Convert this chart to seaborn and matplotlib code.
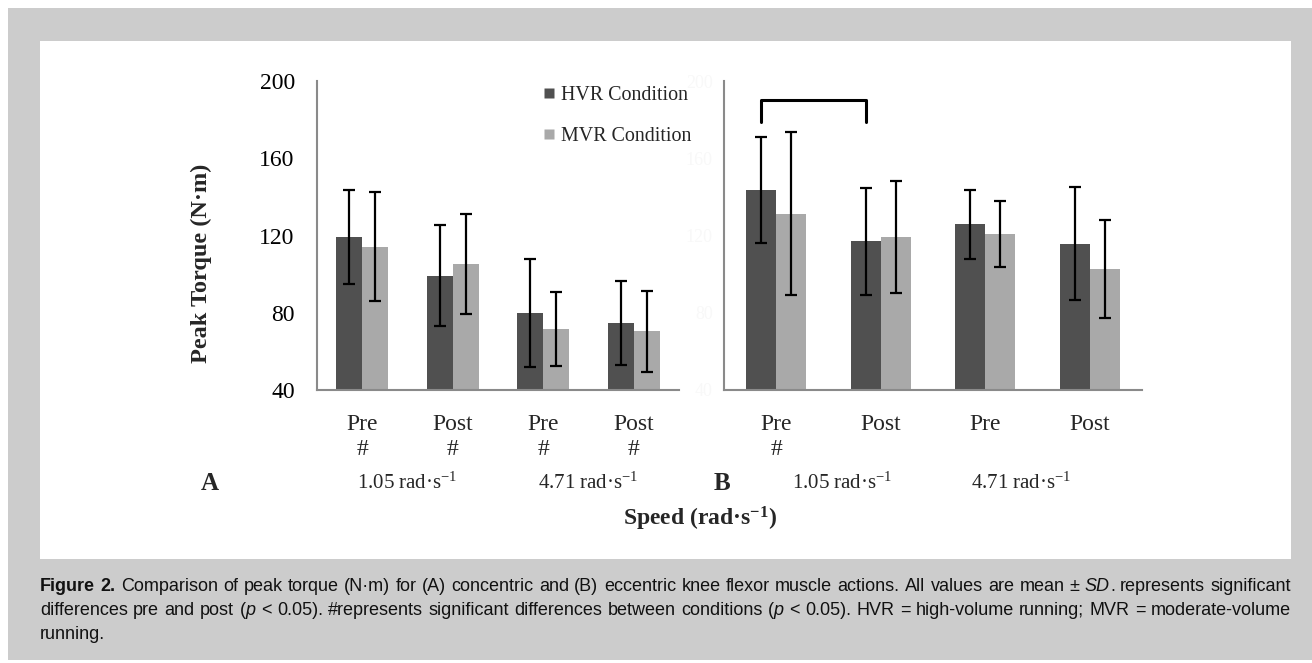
import re
import numpy as np
import pandas as pd
import matplotlib
matplotlib.use("Agg")
import matplotlib.pyplot as plt
import seaborn as sns
from matplotlib.patches import Rectangle
from matplotlib.lines import Line2D
from matplotlib.transforms import IdentityTransform

# ---------------- data ----------------
slots = ["s1", "s2", "s3", "s4"]
tick_labels_A = ["Pre\n#", "Post\n#", "Pre\n#", "Post\n#"]
tick_labels_B = ["Pre\n#", "Post", "Pre", "Post"]
conditions = ["HVR Condition", "MVR Condition"]
speed_labels = ["1.05 rad·s$^{-1}$", "4.71 rad·s$^{-1}$"]
yticks = [40, 80, 120, 160, 200]

conc_hvr_mean = [119.2, 99.2, 80.0, 74.7]
conc_hvr_sd = [24.4, 26.2, 28.0, 21.7]
conc_mvr_mean = [114.2, 105.2, 71.7, 70.3]
conc_mvr_sd = [28.2, 25.8, 19.1, 21.1]

ecc_hvr_mean = [143.5, 116.9, 125.7, 115.8]
ecc_hvr_sd = [27.5, 27.6, 17.9, 29.2]
ecc_mvr_mean = [131.3, 119.2, 120.7, 102.6]
ecc_mvr_sd = [42.1, 29.0, 17.0, 25.5]

bracket_y = [179.0, 190.2]

caption_lines = [
    "**Figure 2.** Comparison of peak torque (N·m) for (A) concentric and (B) eccentric knee flexor muscle actions. All values are mean ± *SD*. represents significant",
    "differences pre and post (*p* < 0.05). #represents significant differences between conditions (*p* < 0.05). HVR = high-volume running; MVR = moderate-volume",
    "running.",
]

# ---------------- style ----------------
sns.set_style("white")
plt.rcParams["font.family"] = ["Liberation Serif", "DejaVu Serif"]
plt.rcParams["mathtext.fontset"] = "custom"
plt.rcParams["mathtext.rm"] = "Liberation Serif"
plt.rcParams["mathtext.it"] = "Liberation Serif:italic"
plt.rcParams["mathtext.bf"] = "Liberation Serif:bold"

W, H = 1312, 663
fig = plt.figure(figsize=(W / 100, H / 100), dpi=100, facecolor="white")

def fx(px):
    return px / W

def fy(py):
    return 1 - py / H

# background panels
fig.patches.append(Rectangle((fx(8), fy(660)), fx(1312) - fx(8), fy(8) - fy(660),
                             transform=fig.transFigure, facecolor="#cccccc", edgecolor="none", zorder=-10))
fig.patches.append(Rectangle((fx(40), fy(559)), fx(1291) - fx(40), fy(41) - fy(559),
                             transform=fig.transFigure, facecolor="white", edgecolor="none", zorder=-9))

palette = {"HVR Condition": "#505050", "MVR Condition": "#a9a9a9"}
axis_col = "#8a8a8a"
TFS = 17

def make_df(hvr, mvr):
    return pd.DataFrame({
        "slot": slots * 2,
        "cond": [conditions[0]] * 4 + [conditions[1]] * 4,
        "val": list(hvr) + list(mvr),
    })

def panel(rect, hvr_m, hvr_s, mvr_m, mvr_s, labels, label_color, ypad, yfs):
    ax = fig.add_axes(rect)
    ax.patch.set_alpha(0)
    df = make_df(hvr_m, mvr_m)
    sns.barplot(data=df, x="slot", y="val", hue="cond", order=slots, hue_order=conditions,
                palette=palette, errorbar=None, width=0.57, saturation=1, linewidth=0,
                ax=ax, legend=False)
    centers = []
    for cont, m, s in zip(ax.containers, [hvr_m, mvr_m], [hvr_s, mvr_s]):
        xs = [p.get_x() + p.get_width() / 2 for p in cont]
        centers.append(xs)
        ax.errorbar(xs, m, yerr=s, fmt="none", ecolor="black", elinewidth=1.6,
                    capsize=4.6, capthick=1.6, zorder=5)
    ax.set_ylim(40, 200)
    ax.set_xlim(-0.5, 3.5)
    ax.set_yticks(yticks)
    ax.set_yticklabels([str(v) for v in yticks], fontsize=yfs, color=label_color)
    ax.set_xticks([-0.5, 0.5, 1.5, 2.5, 3.5])
    ax.set_xticklabels([])
    ax.set_xticks(range(4), minor=True)
    ax.set_xticklabels(labels, minor=True, fontsize=TFS, linespacing=1.25, va="top")
    ax.tick_params(axis="x", which="major", length=5, width=1.5, color=axis_col, direction="out")
    ax.tick_params(axis="x", which="minor", length=0, pad=17)
    ax.tick_params(axis="y", length=6, width=1.5, color=axis_col, direction="out", pad=ypad)
    for sp in ["top", "right"]:
        ax.spines[sp].set_visible(False)
    for sp in ["left", "bottom"]:
        ax.spines[sp].set_color(axis_col)
        ax.spines[sp].set_linewidth(1.5)
    ax.set_xlabel("")
    ax.set_ylabel("")
    return ax, centers

axA, cA = panel([fx(317), fy(390), fx(679) - fx(317), fy(81) - fy(390)],
                conc_hvr_mean, conc_hvr_sd, conc_mvr_mean, conc_mvr_sd, tick_labels_A,
                "black", 10, TFS)
axB, cB = panel([fx(724), fy(390), fx(1142) - fx(724), fy(81) - fy(390)],
                ecc_hvr_mean, ecc_hvr_sd, ecc_mvr_mean, ecc_mvr_sd, tick_labels_B,
                "#f8f8f8", 2, TFS - 4)

axA.set_ylabel("Peak Torque (N·m)", fontsize=TFS + 0.5, fontweight="bold")
axA.yaxis.set_label_coords(-0.29, 0.41)

# legend
handles = [Line2D([], [], marker="s", linestyle="none", markersize=7.5,
                  markerfacecolor=palette[c], markeredgecolor="none") for c in conditions]
axA.legend(handles, conditions, loc="upper left", bbox_to_anchor=(0.625, 0.985), frameon=False,
           fontsize=TFS - 2.6, handlelength=0.6, handletextpad=0.3, labelspacing=1.1,
           borderpad=0, borderaxespad=0)

# bracket (significant pre vs post)
x0, x1 = cB[0][0], cB[0][1]
axB.plot([x0, x0, x1, x1], [bracket_y[0], bracket_y[1], bracket_y[1], bracket_y[0]],
         color="black", linewidth=2.2, clip_on=False, zorder=6)

# speed labels under the groups
tr = lambda ax: matplotlib.transforms.blended_transform_factory(ax.transData, fig.transFigure)
axA.text(0.5, fy(483), speed_labels[0], transform=tr(axA), ha="center", va="center", fontsize=TFS - 2)
axA.text(2.5, fy(483), speed_labels[1], transform=tr(axA), ha="center", va="center", fontsize=TFS - 2)
axB.text(0.63, fy(483), speed_labels[0], transform=tr(axB), ha="center", va="center", fontsize=TFS - 2)
axB.text(2.34, fy(483), speed_labels[1], transform=tr(axB), ha="center", va="center", fontsize=TFS - 2)

fig.text(fx(210), fy(484), "A", fontsize=TFS + 1, fontweight="bold", ha="center", va="center")
fig.text(fx(722), fy(484), "B", fontsize=TFS + 1, fontweight="bold", ha="center", va="center")
fig.text(fx(700), fy(519), r"Speed (rad·s$^{\mathbf{-1}}$)", fontsize=TFS, fontweight="bold",
         ha="center", va="center")

# ---------------- caption ----------------
def parse(line):
    chars = []
    i = 0
    style = "n"
    while i < len(line):
        if line.startswith("**", i):
            style = "b" if style != "b" else "n"
            i += 2
            continue
        if line[i] == "*":
            style = "i" if style != "i" else "n"
            i += 1
            continue
        chars.append((line[i], style))
        i += 1
    words, cur = [], []
    for ch, st in chars:
        if ch == " ":
            if cur:
                words.append(cur)
            cur = []
        else:
            if cur and cur[-1][1] == st:
                cur[-1] = (cur[-1][0] + ch, st)
            else:
                cur.append((ch, st))
    if cur:
        words.append(cur)
    return words

renderer = fig.canvas.get_renderer()
CFS = 13.0

def draw_line(line, x_left, x_right, baseline, justify):
    words = parse(line)
    arts = []
    widths = []
    for w in words:
        runs = []
        tot = 0
        for txt, st in w:
            t = fig.text(0, 0, txt, transform=IdentityTransform(), fontsize=CFS,
                         family=["Liberation Sans", "DejaVu Sans"],
                         fontweight="bold" if st == "b" else "normal",
                         fontstyle="italic" if st == "i" else "normal",
                         va="baseline", ha="left", color="#111111")
            wd = t.get_window_extent(renderer).width
            runs.append((t, wd))
            tot += wd
        arts.append(runs)
        widths.append(tot)
    sp = fig.text(0, 0, "a a", transform=IdentityTransform(), fontsize=CFS, family="Liberation Sans")
    sp2 = fig.text(0, 0, "aa", transform=IdentityTransform(), fontsize=CFS, family="Liberation Sans")
    space = sp.get_window_extent(renderer).width - sp2.get_window_extent(renderer).width
    sp.remove(); sp2.remove()
    if justify and len(words) > 1:
        gap = (x_right - x_left - sum(widths)) / (len(words) - 1)
        gap = max(gap, space * 0.6)
    else:
        gap = space
    x = x_left
    yb = H - baseline
    for runs in arts:
        for t, wd in runs:
            t.set_position((x, yb))
            x += wd
        x += gap

draw_line(caption_lines[0], 40, 1291, 591, True)
draw_line(caption_lines[1], 40, 1291, 615, True)
draw_line(caption_lines[2], 40, 1291, 639, False)

fig.savefig("out.png", dpi=100, facecolor="white")
